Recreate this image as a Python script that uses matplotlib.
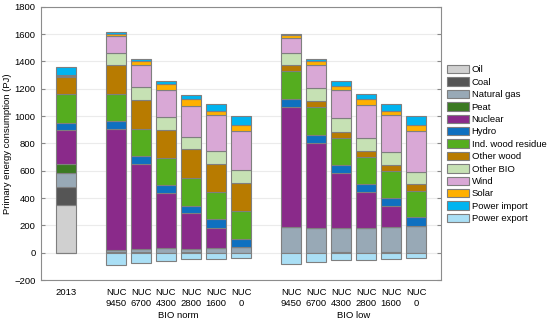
import matplotlib
matplotlib.use("Agg")
import matplotlib.pyplot as plt
import numpy as np
from matplotlib.transforms import blended_transform_factory

plt.rcParams["font.family"] = ["Liberation Sans", "DejaVu Sans"]
plt.rcParams["font.size"] = 6.8

# ---- data (PJ), order: 2013, BIO norm NUC 9450..0, BIO low NUC 9450..0 ----
tick_labels = ["2013",
               "NUC\n9450", "NUC\n6700", "NUC\n4300", "NUC\n2800", "NUC\n1600", "NUC\n0",
               "NUC\n9450", "NUC\n6700", "NUC\n4300", "NUC\n2800", "NUC\n1600", "NUC\n0"]
groups = ["BIO norm", "BIO low"]

oil        = [347, 0, 0, 0, 0, 0, 0,   0, 0, 0, 0, 0, 0]
coal       = [137, 4, 3, 0, 2, 0, 0,   0, 0, 3, 0, 3, 0]
natural_gas = [102, 16, 26, 34, 25, 34, 41,  188, 180, 175, 178, 185, 198]
peat       = [61, 0, 0, 0, 0, 0, 0,    0, 0, 0, 0, 0, 0]
nuclear    = [254, 886, 623, 403, 263, 149, 0,  879, 623, 403, 266, 151, 0]
hydro      = [47, 58, 56, 56, 54, 61, 62,  61, 61, 59, 59, 59, 63]
ind_wood   = [210, 196, 200, 203, 200, 200, 200,  198, 203, 197, 197, 198, 193]
other_wood = [125, 210, 208, 205, 211, 205, 205,  44, 44, 47, 47, 46, 46]
other_bio  = [12, 92, 93, 95, 95, 93, 95,  92, 93, 98, 95, 93, 90]
wind       = [3, 123, 161, 198, 222, 264, 288,  108, 166, 207, 242, 269, 304]
solar      = [0, 17, 29, 41, 49, 34, 44,  20, 31, 34, 37, 36, 41]
power_import = [58, 10, 17, 22, 34, 47, 63,  9, 17, 34, 39, 48, 66]
power_export = [0, -93, -73, -59, -49, -46, -40,  -81, -71, -54, -51, -46, -40]

series = [
    ("Oil", oil, "#d0d0d0"),
    ("Coal", coal, "#555555"),
    ("Natural gas", natural_gas, "#98a9b6"),
    ("Peat", peat, "#3b7a22"),
    ("Nuclear", nuclear, "#8a2a8a"),
    ("Hydro", hydro, "#0e70c0"),
    ("Ind. wood residue", ind_wood, "#55ad1f"),
    ("Other wood", other_wood, "#b87b00"),
    ("Other BIO", other_bio, "#c6e1b4"),
    ("Wind", wind, "#d9a8d6"),
    ("Solar", solar, "#ffb000"),
    ("Power import", power_import, "#00b4f0"),
    ("Power export", power_export, "#aadff5"),
]

x = np.array([1, 3, 4, 5, 6, 7, 8, 10, 11, 12, 13, 14, 15], dtype=float)

fig = plt.figure(figsize=(5.5, 3.25), dpi=100)
ax = fig.add_axes([41 / 550, 45 / 325, 400 / 550, 273.3 / 325])

bottom = np.zeros(len(x))
handles = []
for name, vals, col in series:
    v = np.array(vals, dtype=float)
    if name == "Power export":
        h = ax.bar(x, v, 0.8, bottom=0, color=col, edgecolor="#7f7f7f",
                   linewidth=0.8, label=name, zorder=3)
    else:
        h = ax.bar(x, v, 0.8, bottom=bottom, color=col, edgecolor="#7f7f7f",
                   linewidth=0.8, label=name, zorder=3)
        bottom += v
    handles.append(h)

ax.set_xlim(0, 16)
ax.set_ylim(-200, 1800)
ax.set_yticks(np.arange(-200, 1801, 200))
ax.set_xticks(x)
ax.set_xticklabels(tick_labels, linespacing=1.35)
ax.tick_params(axis="x", length=0, pad=5.5)
ax.tick_params(axis="y", direction="in", length=3, right=True, color="#888888", pad=4)
ax.yaxis.grid(True, color="#ebebeb", linewidth=0.8, zorder=0)
for s in ax.spines.values():
    s.set_color("#8c8c8c")
ax.set_ylabel("Primary energy consumption (PJ)")
ax.yaxis.set_label_coords(-29 / 400, 0.5)

trans = blended_transform_factory(ax.transData, fig.transFigure)
ax.text(5.5, 9 / 325, groups[0], transform=trans, ha="center", va="center")
ax.text(12.5, 9 / 325, groups[1], transform=trans, ha="center", va="center")

fig.legend(handles=handles, loc="upper left", bbox_to_anchor=(447 / 550, 1 - 65 / 325),
           frameon=False, handlelength=2.35, handleheight=1.0, labelspacing=0.31,
           handletextpad=0.25, borderaxespad=0, borderpad=0)

fig.savefig("out.png", dpi=100)
